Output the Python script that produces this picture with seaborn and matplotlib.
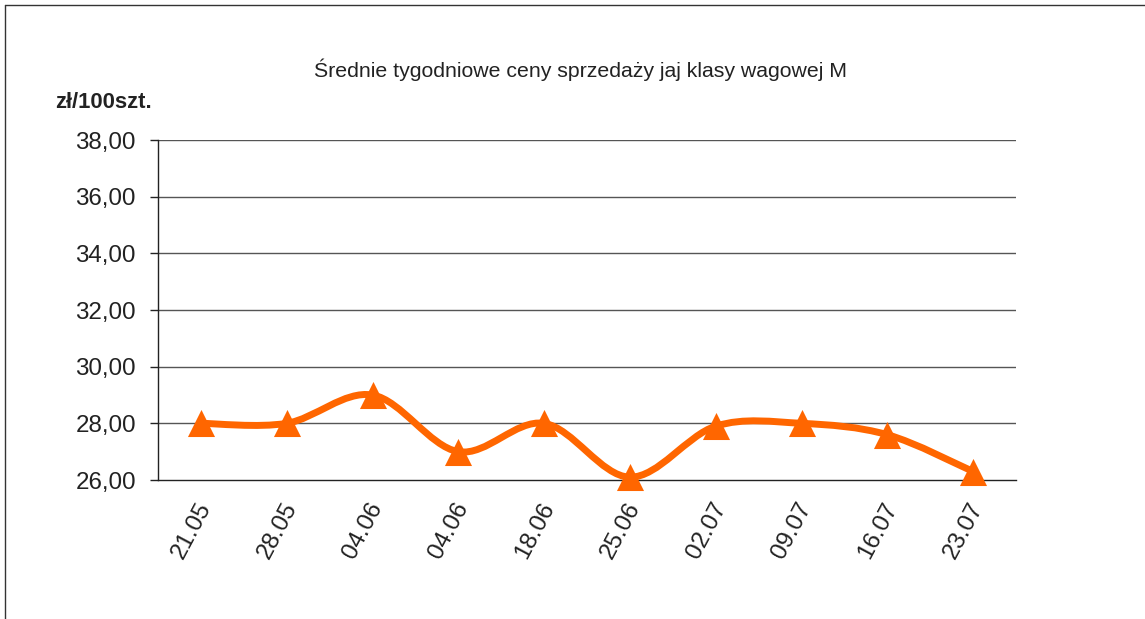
import numpy as np
import pandas as pd
import seaborn as sns
import matplotlib.transforms as mtransforms
from matplotlib import pyplot as plt
from matplotlib.path import Path
from matplotlib.patches import PathPatch
from matplotlib.lines import Line2D

weeks = ["21.05", "28.05", "04.06", "04.06", "18.06", "25.06", "02.07", "09.07", "16.07", "23.07"]
prices = [28.0, 28.0, 29.0, 27.0, 28.0, 26.1, 27.9, 28.0, 27.6, 26.3]
y_ticks = [26, 28, 30, 32, 34, 36, 38]

ORANGE = "#FF6600"
TEXT = "#222222"

sns.set_theme(style="white")
plt.rcParams["font.family"] = ["Liberation Sans", "DejaVu Sans"]

df = pd.DataFrame({"pos": np.arange(len(weeks)), "price": prices})

fig = plt.figure(figsize=(11.45, 6.19), dpi=100)
ax = fig.add_axes([158 / 1145, 1 - 480 / 619, (1016 - 158) / 1145, (480 - 140) / 619])

# smoothed line (Excel-style Bezier through the points)
pts = df[["pos", "price"]].to_numpy()
verts = [tuple(pts[0])]
codes = [Path.MOVETO]
for i in range(len(pts) - 1):
    p0 = pts[max(i - 1, 0)]
    p1 = pts[i]
    p2 = pts[i + 1]
    p3 = pts[min(i + 2, len(pts) - 1)]
    c1 = p1 + (p2 - p0) / 6
    c2 = p2 - (p3 - p1) / 6
    verts += [tuple(c1), tuple(c2), tuple(p2)]
    codes += [Path.CURVE4] * 3
ax.add_patch(PathPatch(Path(verts, codes), facecolor="none", edgecolor=ORANGE,
                       lw=5, capstyle="round", joinstyle="round", zorder=3))

sns.scatterplot(data=df, x="pos", y="price", marker="^", s=380, color=ORANGE,
                edgecolor=ORANGE, linewidth=0, ax=ax, zorder=4, clip_on=False)

ax.set_xlim(-0.5, len(weeks) - 0.5)
ax.set_ylim(26, 38)
ax.set_yticks(y_ticks)
ax.set_yticklabels([f"{v:.2f}".replace(".", ",") for v in y_ticks], fontsize=17.4, color=TEXT)
for v in y_ticks[1:]:
    ax.axhline(v, color="#555555", lw=1, zorder=1)

ax.set_xticks(np.arange(len(weeks)))
ax.set_xticklabels(weeks, rotation=62, fontsize=17.4, color=TEXT,
                   ha="right", va="center", rotation_mode="anchor")
ax.set_xticks(np.arange(len(weeks) + 1) - 0.5, minor=True)
ax.tick_params(axis="x", which="major", length=0, pad=17)
ax.tick_params(axis="x", which="minor", length=8, width=1, color=TEXT, direction="out")
ax.tick_params(axis="y", length=6, width=1, color=TEXT, direction="out", left=True, pad=10)
shift = mtransforms.ScaledTranslation(0.05, 0, fig.dpi_scale_trans)
for lab in ax.get_xticklabels():
    lab.set_transform(lab.get_transform() + shift)

ax.set_xlabel("")
ax.set_ylabel("")
for side in ["top", "right"]:
    ax.spines[side].set_visible(False)
for side in ["left", "bottom"]:
    ax.spines[side].set_color(TEXT)
    ax.spines[side].set_linewidth(1)

fig.text(581 / 1145, 1 - 70 / 619, "Średnie tygodniowe ceny sprzedaży jaj klasy wagowej M",
         ha="center", va="center", fontsize=15.3, color=TEXT)
fig.text(55 / 1145, 1 - 103 / 619, "zł/100szt.", ha="left", va="center",
         fontsize=15.8, fontweight="bold", color=TEXT)

# outer frame (top and left only)
fig.add_artist(Line2D([5 / 1145, 1], [1 - 5 / 619, 1 - 5 / 619], color="#333333", lw=1))
fig.add_artist(Line2D([5 / 1145, 5 / 1145], [0, 1 - 5 / 619], color="#333333", lw=1))

fig.savefig("out.png", dpi=100)
